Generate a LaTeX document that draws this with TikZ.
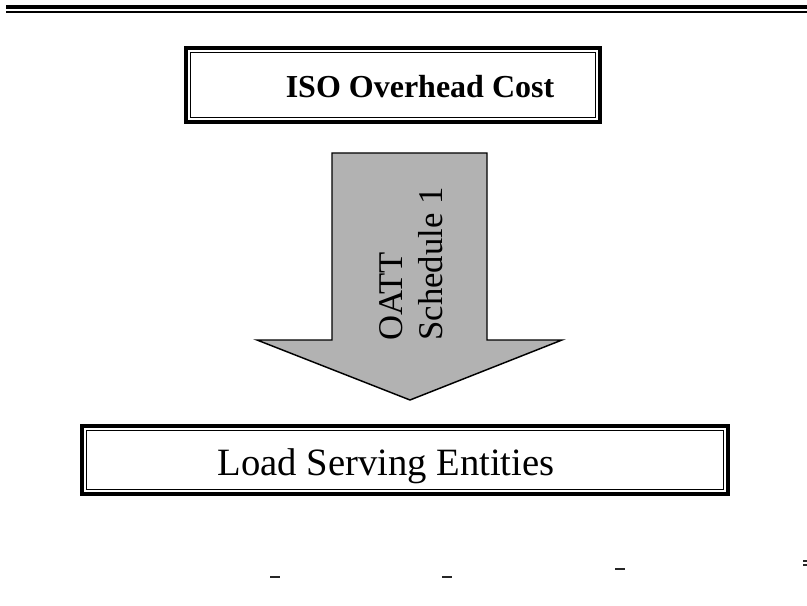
\documentclass[tikz,border=0pt]{standalone}
\usepackage{fontspec}
\setmainfont{Liberation Serif}
\tikzset{
  outerframe/.style={draw=black, line width=2.3pt, minimum width=#1},
  innerframe/.style={draw=black, line width=1pt},
  bigarrow/.style={draw=black, line width=1.1pt, fill=black!30, line join=miter},
  rule/.style={draw=black, line cap=butt},
  tick/.style={draw=black!85, line width=1.2pt}
}
\begin{document}
\begin{tikzpicture}[x=0.75pt,y=-0.75pt]
\useasboundingbox (0,0) rectangle (807,606);
% header rules
\draw[rule, line width=3pt] (6,7) -- (807,7);
\draw[rule, line width=1.5pt] (6,12) -- (807,12);
% ISO box
\node[outerframe=414*0.75pt, minimum height=74*0.75pt, inner sep=0pt] (iso) at (393,85) {};
\draw[innerframe] ([shift={(6,6)}]iso.north west) rectangle ([shift={(-6,-6)}]iso.south east);
\node[font=\bfseries\fontsize{24}{28}\selectfont, inner sep=0pt] (isotext) at (420,87) {ISO Overhead Cost};
% LSE box
\node[outerframe=646*0.75pt, minimum height=68*0.75pt, inner sep=0pt] (lse) at (405,460) {};
\draw[innerframe] ([shift={(6,6)}]lse.north west) rectangle ([shift={(-6,-6)}]lse.south east);
\node[font=\fontsize{29}{34}\selectfont, inner sep=0pt] (lsetext) at (386,466) {Load Serving Entities};
% big arrow
\draw[bigarrow] (332,153) -- (487,153) -- (487,340) -- (562,340) -- (410,400) -- (257,340) -- (332,340) -- cycle;
\node[rotate=90, align=left, font=\fontsize{26}{30}\selectfont, inner sep=0pt] (oatt) at (411,264) {OATT\\Schedule 1};
% stray marks at the bottom
\draw[tick] (270,577) -- (280,577);
\draw[tick] (442,577) -- (452,577);
\draw[tick] (615,569) -- (625,569);
\draw[tick, line width=0.8pt] (803,561) -- (807,561);
\draw[tick, line width=0.8pt] (803,565) -- (807,565);
\end{tikzpicture}
\end{document}
